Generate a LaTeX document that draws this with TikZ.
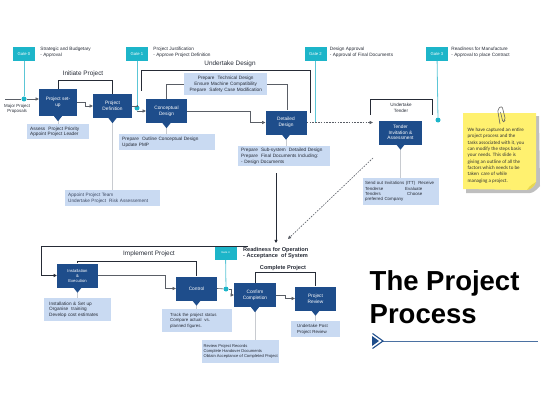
\documentclass[tikz,border=0pt]{standalone}
\usepackage{fontspec}
\setmainfont{Liberation Sans}
\newfontfamily\notefont{Carlito}
\usetikzlibrary{arrows.meta,positioning}
\definecolor{Navy}{HTML}{1E4D8B}
\definecolor{PaleBlue}{HTML}{C9DAF2}
\definecolor{Teal}{HTML}{1DB5C9}
\definecolor{TealLine}{HTML}{5CC6D6}
\definecolor{Ink}{HTML}{262B36}
\definecolor{Stem}{HTML}{C8CBD0}
\definecolor{Muted}{HTML}{5A5E66}
\definecolor{SoftText}{HTML}{3E4A63}
\definecolor{Sticky}{HTML}{FFF16F}
\definecolor{StickyFold}{HTML}{E8D74E}
\newcommand\boxfont{\fontsize{4.8}{5.6}\selectfont}
\newcommand\descfont{\fontsize{4.7}{5.6}\selectfont}
\newcommand\headfont{\fontsize{6.4}{7.5}\selectfont}
\newcommand\boxtip[1]{\fill[Navy] ([xshift=-4pt]#1.south) -- ([xshift=4pt]#1.south) -- ([yshift=-5pt]#1.south) -- cycle;}
\tikzset{
  stage/.style={fill=Navy,text=white,font=\boxfont,align=center,
    minimum width=41pt,minimum height=24pt,inner sep=1pt},
  descbox/.style={fill=PaleBlue,text=Ink,font=\descfont,align=left,
    anchor=north west,inner xsep=3pt,inner ysep=1pt},
  gate/.style={fill=Teal,text=white,font=\fontsize{4.2}{5}\selectfont,
    minimum width=22pt,minimum height=14pt,inner sep=0pt},
  gatenote/.style={text=Ink,font=\descfont,align=left,anchor=north west,inner sep=0pt},
  gatedot/.style={circle,fill=Teal,inner sep=0pt,minimum size=5pt},
  gateline/.style={draw=TealLine,line width=0.8pt},
  heading/.style={text=Ink,font=\headfont,inner sep=0pt},
  bracket/.style={draw=Ink,line width=0.9pt},
  stem/.style={draw=Stem,line width=0.8pt},
  link/.style={draw=Muted,line width=0.6pt},
  arrow/.style={link,-{Triangle[length=3.2pt,width=3.2pt]}},
  dasharrow/.style={arrow,dash pattern=on 1.6pt off 1.2pt}
}
\begin{document}
\begin{tikzpicture}[x=1pt,y=-1pt]
  \useasboundingbox (0,0) rectangle (560,420);
  % gates
  \node[gate] (gate0) at (24,54) {Gate 0};
  \node[gate] (gate1) at (137,54) {Gate 1};
  \node[gate] (gate2) at (315.5,54) {Gate 2};
  \node[gate] (gate3) at (437,54) {Gate 3};
  \node[gate,font=\fontsize{2.8}{3}\selectfont] (gate4) at (225.5,253) {Gate 4};
  \node[gatenote,right=5pt of gate0.north east,anchor=north west] (note0)
    {Strategic and Budgetary\\- Approval};
  \node[gatenote,right=5pt of gate1.north east,anchor=north west] (note1)
    {Project Justification\\- Approve Project Definition};
  \node[gatenote,right=3pt of gate2.north east,anchor=north west] (note2)
    {Design Approval\\- Approval of Final Documents};
  \node[gatenote,right=3pt of gate3.north east,anchor=north west] (note3)
    {Readiness for Manufacture\\- Approval to place Contract};
  \node[gatedot] (g0dot) at (24,99) {};
  \node[gatedot] (g1dot) at (137,108) {};
  \node[gatedot] (g3dot) at (438,120) {};
  \node[gatedot] (g4dot) at (226,289) {};

  % stages
  \node[stage,minimum width=38pt,minimum height=27pt] (setup) at (58,102.5) {Project set-\\up};
  \node[stage,minimum width=39pt] (projdef) at (112.5,106) {Project\\Definition};
  \node[stage] (concept) at (166.5,111) {Conceptual\\Design};
  \node[stage] (detailed) at (286,122.5) {Detailed\\Design};
  \node[stage,minimum width=43pt] (tender) at (400.5,132.5) {Tender\\Invitation \&\\Assessment};
  \node[stage,font=\fontsize{4.2}{5}\selectfont] (install) at (77.5,275.5) {Installation\\\&\\Execution};
  \node[stage] (control) at (196.5,288.5) {Control};
  \node[stage,minimum width=42pt] (confirm) at (255,295) {Confirm\\Completion};
  \node[stage] (review) at (315.5,298.5) {Project\\Review};

  % descriptions
  \node[descbox,text width=56pt,minimum height=15pt] (setupdesc) at (27,124)
    {Assess~ Project Priority\\Appoint Project Leader};
  \node[descbox,text=SoftText,text width=89pt,minimum height=16pt] (projdefdesc) at (65,190)
    {Appoint Project Team\\Undertake Project~ Risk Assessement};
  \node[descbox,text width=90pt,minimum height=16pt] (conceptdesc) at (119,134)
    {Prepare~ Outline Conceptual Design\\Update PMP};
  \node[descbox,align=center,text width=77pt,minimum height=22pt] (techdesc) at (184,73)
    {Prepare~ Technical Design\\Ensure Machine Compatibility\\Prepare~ Safety Case Modification};
  \node[descbox,text width=86pt,minimum height=20pt] (detaileddesc) at (238,146)
    {Prepare~ Sub-system~ Detailed Design\\Prepare~ Final Documents Including:\\- Design Documents};
  \node[descbox,font=\fontsize{4.4}{5.4}\selectfont,text width=72pt,inner xsep=2pt,minimum height=27pt] (tenderdesc) at (363,178)
    {Send out Invitations (ITT)~ Receive\\\makebox[40pt][l]{Tenderse}Evaluate\\\makebox[42pt][l]{Tenders}Choose\\preferred Company};
  \node[descbox,inner xsep=5pt,text width=57pt,minimum height=23pt] (installdesc) at (44,298)
    {Installation \& Set up\\Organise~ training\\Develop cost estimates};
  \node[descbox,font=\fontsize{4.4}{5.4}\selectfont,inner xsep=8pt,text width=54pt,minimum height=23pt] (controldesc) at (162,309)
    {Track the project status\\Compare actual~ vs.\\planned figures.};
  \node[descbox,font=\fontsize{4.1}{5.2}\selectfont,inner xsep=1.5pt,minimum width=77pt,minimum height=23pt] (confirmdesc) at (202,340)
    {Review Project Records\\Complete Handover Documents\\Obtain Acceptance of Completed Project};
  \node[descbox,font=\fontsize{4.4}{5.4}\selectfont,inner xsep=6pt,text width=37pt,minimum height=16pt] (reviewdesc) at (291,321)
    {Undertake Post\\Project Review};

  % headings
  \node[heading] (hInit) at (83,74) {Initiate Project};
  \node[heading] (hDesign) at (230,64) {Undertake Design};
  \node[heading,font=\fontsize{4.6}{5.4}\selectfont,align=center] (hTender) at (401,108) {Undertake\\Tender};
  \node[heading] (hImpl) at (149,254) {Implement Project};
  \node[heading,font=\fontsize{5.6}{6.5}\selectfont\bfseries] (hComplete) at (283,268) {Complete Project};
  \node[gatenote,font=\fontsize{5.6}{6.6}\selectfont\bfseries] (readiness) at (243,247)
    {Readiness for Operation\\- Acceptance~ of System};
  \node[anchor=west,inner sep=0pt,align=center,text=Ink,font=\fontsize{4.4}{5.2}\selectfont] (proposals) at (4,108.5)
    {Major Project\\Proposals};

  % gate lines
  \draw[gateline] (gate0) -- (g0dot);
  \draw[gateline] (gate1) -- (g1dot);
  \draw[gateline] (gate2) -- (gate2 |- detailed.east);
  \draw[gateline] (gate3) -- (g3dot);
  \draw[gateline] (gate4) -- (g4dot);

  % brackets
  \coordinate (dsgnL) at (141,91);
  \coordinate (dsgnR) at (310,113);
  \coordinate (tndL) at (370,115);
  \coordinate (tndR) at (432,115);
  \coordinate (implIn) at (248,246);
  \draw[bracket] (setup.north) -- ++(0,-8) -| (projdef.north);
  \draw[bracket] (dsgnL) -- ++(0,-21) -| (dsgnR);
  \draw[bracket] (tndL) -- ++(0,-16) -| (tndR);
  \draw[bracket] (install.north) -- ++(0,-2) -| (control.north);
  \draw[bracket] (confirm.north) -- ++(0,-10) -| (review.north);
  \draw[arrow,draw=Ink,line width=0.8pt] (implIn) -- ++(-207,0) |- (install.west);

  % flow
  \coordinate (mppIn) at (5,99);
  \draw[arrow] (mppIn) -- (g0dot) -- (setup.west |- g0dot);
  \draw[arrow] (setup.east) -- ++(8,0) |- (projdef.west);
  \draw[link] (projdef.east) -| (g1dot);
  \draw[arrow] (g1dot) |- (concept.west);
  \draw[arrow] (concept.east) -- ++(63,0) |- (detailed.west);
  \draw[link] (concept.north) |- (techdesc.west);
  \draw[link] (techdesc.east) -| ([xshift=1pt]detailed.north);
  \draw[dasharrow] (detailed.east) -- ([xshift=-6pt]detailed.east -| tender.west);
  \draw[arrow] (install.east) -- ++(67,0) |- (control.west);
  \draw[link] (control.east) -- (g4dot);
  \draw[arrow] (g4dot) -- ++(5,0) |- (confirm.west);
  \draw[arrow] (confirm.east) -- ++(9,0) |- (review.west);
  \coordinate (dsgnOut) at (276,173);
  \coordinate (oprIn) at (276,243);
  \coordinate (tndOut) at (373,158);
  \coordinate (oprIn2) at (288,239);
  \draw[arrow,line width=0.7pt,draw=Ink] (dsgnOut) -- (oprIn);
  \draw[dasharrow] (tndOut) -- (oprIn2);

  % stems
  \foreach \s in {setup,projdef,concept,detailed,tender,install,control,confirm,review}
    \draw[stem] (\s.south) -- (\s.south |- \s desc.north);
  \foreach \s in {setup,projdef,concept,detailed,tender,install,control,confirm,review}
    {\boxtip{\s}}

  % sticky note
  \fill[black!25] (466,117) -- (539,116) -- (540,186) .. controls (536,191) and (532,193) .. (530,193) -- (466,193) -- cycle;
  \fill[Sticky] (463,113) -- (536,113) -- (536,182) .. controls (534,187) and (531,189) .. (527,190) -- (463,189) -- cycle;
  \fill[StickyFold] (536,182) .. controls (533,184) and (530,185) .. (527,190) .. controls (531,189) and (534,187) .. (536,182) -- cycle;
  \draw[black!60,line width=0.6pt,rounded corners=2pt] (500,124) -- (497.5,109) -- (502,106) -- (505.5,120) -- (503,122.5) -- (500.5,112);
  \node[anchor=north west,inner sep=0pt,align=left,text=black!80,font=\notefont\fontsize{5}{6.3}\selectfont] (stickytext) at (467.5,128)
    {We have captured an entire\\project process and the\\tasks associated with it, you\\can modify the steps basis\\your needs. This slide is\\giving an outline of all the\\factors which needs to be\\taken~ care of while\\managing a project.};

  % title
  \node[anchor=north west,inner sep=0pt,align=left,font=\fontsize{27.5}{33}\selectfont\bfseries] (title) at (369.5,270)
    {The Project\\Process};
  \coordinate (ruleL) at (383,341);
  \coordinate (ruleR) at (538,341);
  \draw[Navy!80,line width=0.7pt] (ruleL) -- (ruleR);
  \fill[Navy] (372,336) -- (379,341) -- (372,346) -- cycle;
  \draw[Navy,line width=1.1pt] (372.5,333.5) -- (383,341) -- (372.5,348.5);
\end{tikzpicture}
\end{document}
